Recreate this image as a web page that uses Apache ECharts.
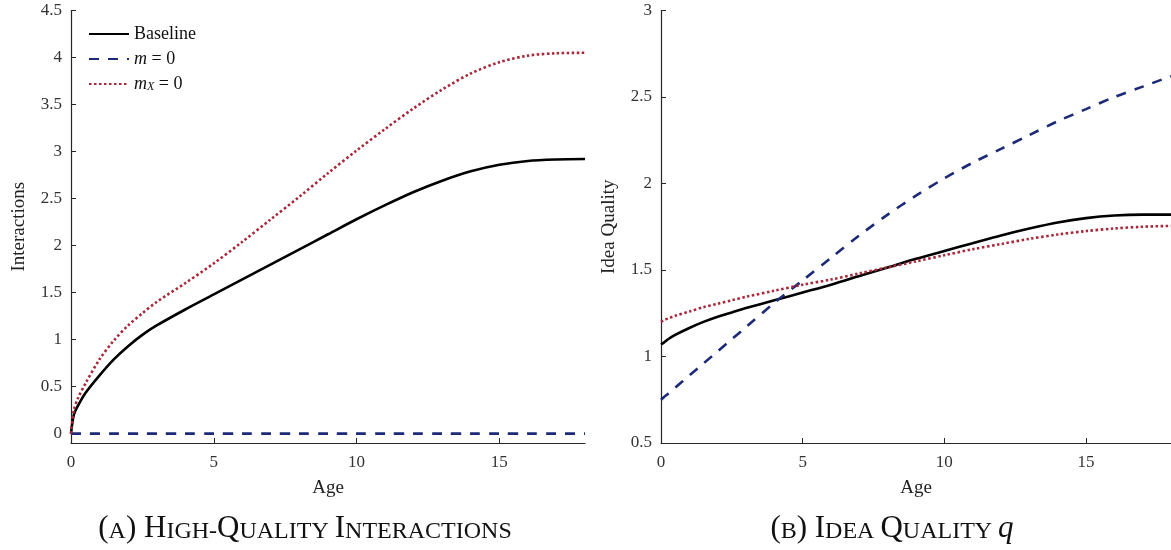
<!DOCTYPE html>
<html>
<head>
<meta charset="utf-8">
<script src="https://cdn.jsdelivr.net/npm/echarts@6/dist/echarts.min.js"></script>
<style>
html,body{margin:0;padding:0;background:#fff;}
#chart{width:1171px;height:550px;}
</style>
</head>
<body>
<div id="chart"></div>
<script>
// ---- data ----
var ages = [0,0.1,0.25,0.5,1,1.5,2,2.5,3,4,5,6,7,8,9,10,11,12,13,14,15,16,17,18];
// Panel A: High-quality interactions
var interBaseline = [0,0.2,0.3,0.43,0.62,0.79,0.93,1.05,1.15,1.32,1.48,1.64,1.8,1.96,2.12,2.28,2.43,2.57,2.69,2.79,2.86,2.9,2.915,2.92];
var interM0       = [0,0,0,0,0,0,0,0,0,0,0,0,0,0,0,0,0,0,0,0,0,0,0,0];
var interMX0      = [0,0.25,0.38,0.53,0.79,0.99,1.15,1.28,1.4,1.6,1.81,2.04,2.28,2.52,2.77,3.01,3.24,3.46,3.66,3.83,3.95,4.02,4.045,4.05];
// Panel B: Idea quality q
var qualBaseline = [1.07,1.08,1.1,1.125,1.165,1.2,1.23,1.255,1.28,1.325,1.37,1.415,1.465,1.515,1.565,1.61,1.655,1.7,1.74,1.775,1.8,1.815,1.82,1.82];
var qualM0       = [0.75,0.765,0.785,0.82,0.89,0.96,1.03,1.1,1.17,1.31,1.44,1.57,1.7,1.82,1.93,2.03,2.12,2.2,2.28,2.36,2.43,2.5,2.56,2.62];
var qualMX0      = [1.2,1.21,1.22,1.235,1.26,1.285,1.305,1.325,1.345,1.38,1.415,1.445,1.48,1.515,1.55,1.585,1.62,1.65,1.68,1.705,1.725,1.74,1.75,1.755];
// ticks
var xTicks = [0,5,10,15];
var yTicksA = [0,0.5,1,1.5,2,2.5,3,3.5,4,4.5];
var yTicksB = [0.5,1,1.5,2,2.5,3];
var seriesNames = ['Baseline','m = 0','m_X = 0'];

function zip(xs, ys){ return xs.map(function(x,i){ return [x, ys[i]]; }); }

var FONT = '"Liberation Serif", "DejaVu Serif", serif';
var AX = '#262626';
var C_BLACK = '#000000', C_BLUE = '#1c2a78', C_RED = '#a8283a';

function xAx(gi){
  return {
    type:'value', gridIndex:gi, min:0, max:18,
    name:'Age', nameLocation:'middle', nameGap:36,
    nameTextStyle:{fontFamily:FONT, fontSize:19, color:'#222'},
    axisLine:{show:true, onZero:false, lineStyle:{color:AX, width:1.2}},
    axisTick:{show:true, inside:true, length:5, customValues:xTicks, lineStyle:{color:AX}},
    axisLabel:{customValues:xTicks, fontFamily:FONT, fontSize:17, color:'#333', margin:11},
    splitLine:{show:false}
  };
}
function yAx(gi, min, max, ticks, name, gap){
  return {
    type:'value', gridIndex:gi, min:min, max:max,
    name:name, nameLocation:'middle', nameGap:gap,
    nameTextStyle:{fontFamily:FONT, fontSize:19, color:'#222'},
    axisLine:{show:true, onZero:false, lineStyle:{color:AX, width:1.2}},
    axisTick:{show:true, inside:true, length:5, customValues:ticks, lineStyle:{color:AX}},
    axisLabel:{customValues:ticks, fontFamily:FONT, fontSize:17, color:'#333', margin:9},
    splitLine:{show:false}
  };
}
function line(name, data, xi, color, type, width){
  return {
    name:name, type:'line', xAxisIndex:xi, yAxisIndex:xi, data:data,
    showSymbol:false, symbol:'none', smooth:0.3, silent:true,
    lineStyle:{color:color, width:width, type:type, cap:'butt'},
    itemStyle:{color:color}
  };
}

var chart = echarts.init(document.getElementById('chart'), null, {renderer:'canvas'});
var rich = {
  b:{fontFamily:FONT, fontSize:31, fontWeight:'normal', color:'#111', verticalAlign:'bottom', lineHeight:36},
  s:{fontFamily:FONT, fontSize:24, fontWeight:'normal', color:'#111', verticalAlign:'bottom', lineHeight:36},
  q:{fontFamily:FONT, fontSize:31, fontWeight:'normal', fontStyle:'italic', color:'#111', verticalAlign:'bottom', lineHeight:36}
};
chart.setOption({
  animation:false,
  backgroundColor:'#fff',
  textStyle:{fontFamily:FONT},
  grid:[
    {left:71, right:586, top:10.5, bottom:107, containLabel:false},
    {left:661, right:-4, top:10.5, bottom:107, containLabel:false}
  ],
  title:[
    {text:'{b|(}{s|A}{b|) H}{s|IGH-}{b|Q}{s|UALITY }{b|I}{s|NTERACTIONS}', left:300, top:503, textAlign:'center',
     textStyle:{fontWeight:'normal', rich:rich}},
    {text:'{b|(}{s|B}{b|) I}{s|DEA }{b|Q}{s|UALITY }{q|q}', left:887, top:503, textAlign:'center',
     textStyle:{fontWeight:'normal', rich:rich}}
  ],
  legend:{
    data:seriesNames, orient:'vertical', left:88, top:25, padding:0,
    itemWidth:40, itemHeight:14, itemGap:7,
    itemStyle:{opacity:0},
    textStyle:{fontFamily:FONT, fontSize:18, color:'#111', lineHeight:16,
      rich:{
        i:{fontFamily:FONT, fontSize:18, fontStyle:'italic', color:'#111', lineHeight:16},
        n:{fontFamily:FONT, fontSize:18, color:'#111', lineHeight:16},
        sub:{fontFamily:FONT, fontSize:12, fontStyle:'italic', color:'#111', lineHeight:14, padding:[5,0,0,0]}
      }},
    formatter:function(n){
      if(n==='m = 0') return '{i|m} {n|= 0}';
      if(n==='m_X = 0') return '{i|m}{sub|X} {n|= 0}';
      return n;
    }
  },
  xAxis:[xAx(0), xAx(1)],
  yAxis:[
    yAx(0, -0.1, 4.5, yTicksA, 'Interactions', 42),
    yAx(1, 0.5, 3, yTicksB, 'Idea Quality', 42)
  ],
  series:[
    line(seriesNames[0], zip(ages, interBaseline), 0, C_BLACK, 'solid', 2.6),
    line(seriesNames[1], zip(ages, interM0), 0, C_BLUE, [10,9], 2.6),
    line(seriesNames[2], zip(ages, interMX0), 0, C_RED, [2.5,2.5], 2.6),
    line(seriesNames[0], zip(ages, qualBaseline), 1, C_BLACK, 'solid', 2.6),
    line(seriesNames[1], zip(ages, qualM0), 1, C_BLUE, [10,9], 2.6),
    line(seriesNames[2], zip(ages, qualMX0), 1, C_RED, [2.5,2.5], 2.6)
  ]
});
</script>
</body>
</html>
